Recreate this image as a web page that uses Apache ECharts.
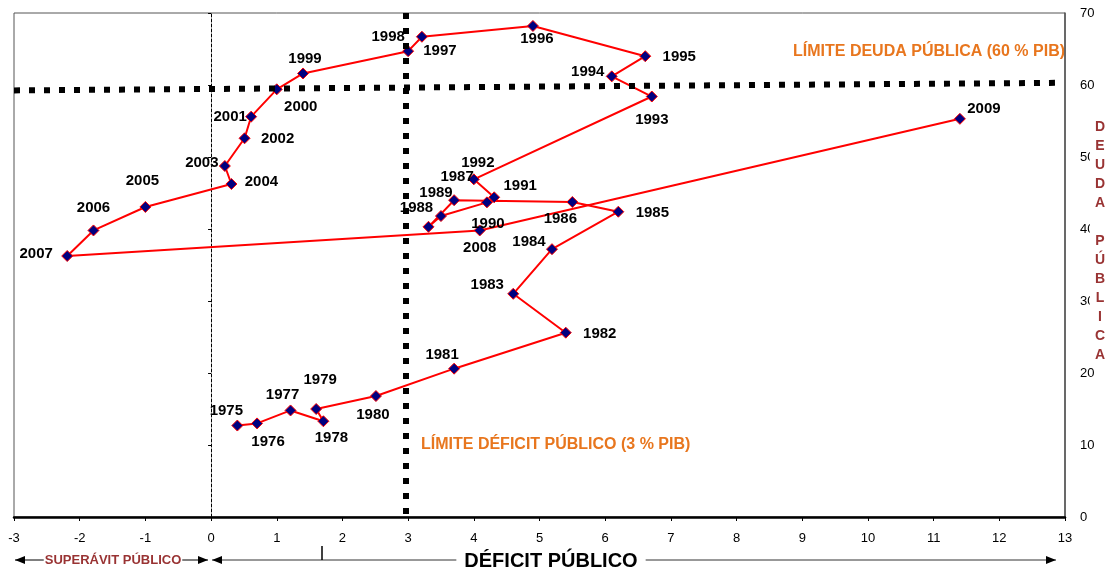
<!DOCTYPE html>
<html>
<head>
<meta charset="utf-8">
<script src="https://cdn.jsdelivr.net/npm/echarts@6/dist/echarts.min.js"></script>
<style>
  html, body { margin: 0; padding: 0; background: #fff; }
  #main { width: 1112px; height: 572px; }
</style>
</head>
<body>
<div id="main"></div>
<script>
// años y valores (déficit % PIB, deuda % PIB)
var years = ['1975','1976','1977','1978','1979','1980','1981','1982','1983','1984',
  '1985','1986','1987','1988','1989','1990','1991','1992','1993','1994',
  '1995','1996','1997','1998','1999','2000','2001','2002','2003','2004',
  '2005','2006','2007','2008','2009'];
var deficit = [0.40, 0.70, 1.21, 1.71, 1.60, 2.51, 3.70, 5.40, 4.60, 5.19,
  6.20, 5.50, 3.70, 3.31, 3.50, 4.20, 4.31, 4.00, 6.71, 6.10,
  6.61, 4.90, 3.21, 3.00, 1.40, 1.00, 0.61, 0.51, 0.21, 0.31,
  -1.00, -1.79, -2.19, 4.09, 11.40];
var deuda = [12.7, 13.0, 14.8, 13.3, 15.0, 16.8, 20.6, 25.6, 31.0, 37.2,
  42.4, 43.75, 44.0, 40.3, 41.8, 43.7, 44.4, 46.9, 58.4, 61.2,
  64.0, 68.2, 66.7, 64.7, 61.6, 59.4, 55.6, 52.6, 48.75, 46.25,
  43.06, 39.8, 36.25, 39.8, 55.3];
var xTicks = [-3, 13, 1];
var yTicks = [0, 70, 10];
var limiteDeficit = 2.96;
var limiteDeuda = [59.25, 60.3];

// donde va cada etiqueta respecto al rombo (px)
var labelOffset = {
  '1975': [-11, -15], '1976': [11, 18], '1977': [-8, -16], '1978': [8, 17], '1979': [4, -29],
  '1980': [-3, 19], '1981': [-12, -14], '1982': [34, 1], '1983': [-26, -9], '1984': [-23, -7],
  '1985': [34, 1], '1986': [-12, 17], '1987': [3, -23], '1988': [-12, -19], '1989': [-5, -23],
  '1990': [1, 21], '1991': [26, -11], '1992': [4, -16], '1993': [0, 23], '1994': [-24, -5],
  '1995': [34, 1], '1996': [4, 13], '1997': [18, 14], '1998': [-20, -14], '1999': [2, -15],
  '2000': [24, 18], '2001': [-21, 0], '2002': [33, 1], '2003': [-23, -3], '2004': [30, -2],
  '2005': [-3, -26], '2006': [0, -23], '2007': [-31, -2], '2008': [0, 17], '2009': [24, -10]
};

var font = "'Liberation Sans', Arial, sans-serif";
var orange = '#E8761E';
var brown = '#993333';

var points = [];
for (var i = 0; i < years.length; i++) {
  points.push({
    value: [deficit[i], deuda[i]],
    name: years[i],
    label: { offset: labelOffset[years[i]] }
  });
}

var myChart = echarts.init(document.getElementById('main'));

myChart.setOption({
  animation: false,
  grid: {
    left: 14, right: 47, top: 13, bottom: 55,
    show: true, borderColor: '#555', borderWidth: 1
  },
  xAxis: {
    type: 'value',
    min: xTicks[0], max: xTicks[1], interval: xTicks[2],
    axisLine: { onZero: false, lineStyle: { color: '#000', width: 2.5 } },
    axisTick: { length: 4, lineStyle: { color: '#000' } },
    axisLabel: { margin: 15, fontSize: 13, color: '#000', fontFamily: font },
    splitLine: { show: false }
  },
  yAxis: [{
    type: 'value',
    position: 'left',
    min: yTicks[0], max: yTicks[1], interval: yTicks[2],
    axisLine: { show: true, onZero: true, lineStyle: { color: '#000', width: 1, type: [3, 2] } },
    axisTick: { show: true, length: 3, lineStyle: { color: '#000' } },
    axisLabel: { show: false },
    splitLine: { show: false }
  }, {
    type: 'value',
    position: 'right',
    min: yTicks[0], max: yTicks[1], interval: yTicks[2],
    axisLine: { show: true, onZero: false, lineStyle: { color: '#555', width: 1.5 } },
    axisTick: { show: false },
    axisLabel: { margin: 15, fontSize: 13, color: '#000', fontFamily: font },
    splitLine: { show: false }
  }],
  series: [{
    // líneas límite
    type: 'line',
    data: [],
    z: 1,
    clip: false,
    markLine: {
      silent: true,
      symbol: 'none',
      label: { show: false },
      lineStyle: { color: '#000', width: 6, type: [6, 9], cap: 'butt' },
      data: [
        [{ coord: [limiteDeficit, yTicks[1]] }, { coord: [limiteDeficit, 0.3] }],
        [{ coord: [xTicks[0], limiteDeuda[0]] }, { coord: [12.9, limiteDeuda[1]] }]
      ]
    }
  }, {
    type: 'line',
    data: points,
    z: 3,
    symbol: 'diamond',
    symbolSize: 11,
    lineStyle: { color: '#ff0000', width: 2 },
    itemStyle: { color: '#000080', borderColor: '#ff0000', borderWidth: 1 },
    label: {
      show: true,
      position: 'inside',
      formatter: function (p) { return p.name; },
      color: '#000',
      fontWeight: 'bold',
      fontSize: 15,
      fontFamily: font
    }
  }],
  graphic: [
    { type: 'text', left: 793, top: 44, style: { text: 'LÍMITE DEUDA PÚBLICA (60 % PIB)', fill: orange, font: 'bold 16px ' + font } },
    { type: 'text', left: 421, top: 437, style: { text: 'LÍMITE DÉFICIT PÚBLICO (3 % PIB)', fill: orange, font: 'bold 16px ' + font } },
    { type: 'text', x: 1100, y: 118, z: 10, style: { text: 'D\nE\nU\nD\nA\n\nP\nÚ\nB\nL\nI\nC\nA', fill: brown, font: 'bold 14px ' + font, lineHeight: 19, align: 'center', backgroundColor: '#fff', padding: [0, 5] } },
    // flechas de abajo
    { type: 'line', shape: { x1: 15, y1: 560, x2: 208, y2: 560 }, style: { stroke: '#000', lineWidth: 1 } },
    { type: 'line', shape: { x1: 212, y1: 560, x2: 1056, y2: 560 }, style: { stroke: '#333', lineWidth: 1 } },
    { type: 'line', shape: { x1: 322, y1: 546, x2: 322, y2: 560 }, style: { stroke: '#000', lineWidth: 1.5 } },
    { type: 'polygon', shape: { points: [[15, 560], [25, 556], [25, 564]] }, style: { fill: '#000' } },
    { type: 'polygon', shape: { points: [[208, 560], [198, 556], [198, 564]] }, style: { fill: '#000' } },
    { type: 'polygon', shape: { points: [[212, 560], [222, 556], [222, 564]] }, style: { fill: '#000' } },
    { type: 'polygon', shape: { points: [[1056, 560], [1046, 556], [1046, 564]] }, style: { fill: '#000' } },
    { type: 'text', x: 113, y: 560, z: 10, style: { text: 'SUPERÁVIT PÚBLICO', fill: brown, font: 'bold 13px ' + font, align: 'center', verticalAlign: 'middle', backgroundColor: '#fff', padding: [0, 1] } },
    { type: 'text', x: 551, y: 561, z: 10, style: { text: 'DÉFICIT PÚBLICO', fill: '#000', font: 'bold 20px ' + font, align: 'center', verticalAlign: 'middle', backgroundColor: '#fff', padding: [0, 8] } }
  ]
});
</script>
</body>
</html>
